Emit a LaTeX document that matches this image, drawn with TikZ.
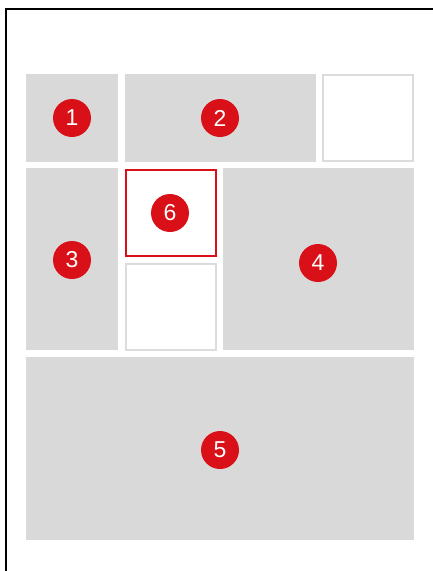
\documentclass[tikz,border=0pt]{standalone}
\usepackage{fontspec}
\setmainfont{Liberation Sans}
\definecolor{panelgray}{RGB}{217,217,217}
\definecolor{badgered}{RGB}{218,16,24}
\definecolor{lightedge}{RGB}{220,220,220}
\tikzset{
  panel/.style={fill=panelgray, draw=none},
  emptypanel/.style={fill=white, draw=lightedge, line width=2pt},
  hlpanel/.style={fill=white, draw=badgered, line width=1.6pt},
  badge/.style={circle, fill=badgered, minimum size=38pt, inner sep=0pt, text=white, font=\fontsize{23}{23}\selectfont},
  frame/.style={draw=black, line width=2pt}
}
\begin{document}
\begin{tikzpicture}[x=1pt,y=-1pt]
\useasboundingbox (0,0) rectangle (432,571);
\fill[white] (0,0) rectangle (432,571);
\draw[frame] (6,575) -- (6,9) -- (436,9);
% panels
\path[panel] (26,74) rectangle (118,162);
\path[panel] (125,74) rectangle (316,162);
\draw[emptypanel] (323,75) rectangle (413,161);
\path[panel] (26,168) rectangle (118,350);
\draw[hlpanel] (126,170) rectangle (216,256);
\draw[emptypanel] (126,264) rectangle (216,350);
\path[panel] (223,168) rectangle (414,350);
\path[panel] (26,357) rectangle (414,540);
% badges
\node[badge] (b1) at (72,118) {1};
\node[badge] (b2) at (220,118) {2};
\node[badge] (b3) at (72,260) {3};
\node[badge] (b4) at (318,263) {4};
\node[badge] (b5) at (220,450) {5};
\node[badge] (b6) at (170,213) {6};
\end{tikzpicture}
\end{document}
